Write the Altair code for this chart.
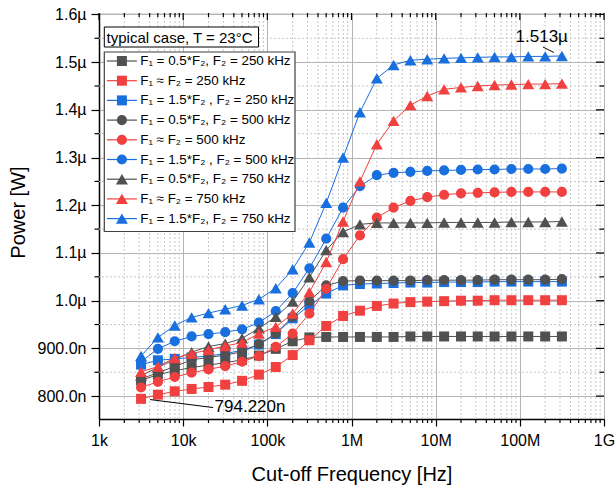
import altair as alt
import pandas as pd

# Cut-off frequency sweep [Hz]
freq_hz = [3.16e3, 5.01e3, 7.94e3, 1.26e4, 2.00e4, 3.16e4, 5.01e4, 7.94e4, 1.26e5,
           2.00e5, 3.16e5, 5.01e5, 7.94e5, 1.26e6, 2.00e6, 3.16e6, 5.01e6, 7.94e6,
           1.26e7, 2.00e7, 3.16e7, 5.01e7, 7.94e7, 1.26e8, 2.00e8, 3.16e8]

# Power in µW for each F1/F2 configuration
p_half_250 = [0.833, 0.845, 0.853, 0.860, 0.865, 0.870, 0.876, 0.885, 0.899, 0.915, 0.923, 0.924, 0.924,
              0.924, 0.924, 0.924, 0.925, 0.925, 0.925, 0.925, 0.925, 0.925, 0.925, 0.925, 0.925, 0.925]
p_eq_250 = [0.79422, 0.803, 0.810, 0.815, 0.819, 0.824, 0.832, 0.845, 0.861, 0.886, 0.917, 0.947, 0.968,
            0.979, 0.989, 0.994, 0.997, 0.998, 0.999, 1.000, 1.000, 1.001, 1.001, 1.001, 1.001, 1.001]
p_15_250 = [0.866, 0.875, 0.878, 0.881, 0.884, 0.889, 0.896, 0.908, 0.930, 0.963, 0.990, 1.015, 1.032,
            1.035, 1.036, 1.037, 1.038, 1.038, 1.039, 1.039, 1.039, 1.040, 1.040, 1.040, 1.040, 1.040]
p_half_500 = [0.836, 0.849, 0.862, 0.876, 0.881, 0.886, 0.893, 0.909, 0.931, 0.966, 0.999, 1.032, 1.041,
              1.042, 1.042, 1.042, 1.042, 1.043, 1.043, 1.043, 1.043, 1.044, 1.044, 1.044, 1.044, 1.045]
p_eq_500 = [0.818, 0.830, 0.840, 0.849, 0.856, 0.863, 0.872, 0.884, 0.903, 0.931, 0.973, 1.025, 1.087,
            1.137, 1.174, 1.195, 1.209, 1.217, 1.222, 1.225, 1.226, 1.227, 1.228, 1.228, 1.228, 1.228]
p_15_500 = [0.872, 0.899, 0.915, 0.925, 0.930, 0.934, 0.940, 0.954, 0.978, 1.016, 1.068, 1.130, 1.195,
            1.240, 1.263, 1.268, 1.270, 1.272, 1.273, 1.274, 1.275, 1.275, 1.276, 1.276, 1.276, 1.277]
p_half_750 = [0.843, 0.860, 0.877, 0.892, 0.904, 0.910, 0.921, 0.942, 0.966, 0.998, 1.049, 1.106, 1.144,
              1.160, 1.163, 1.163, 1.163, 1.163, 1.164, 1.164, 1.164, 1.164, 1.165, 1.165, 1.165, 1.166]
p_eq_750 = [0.851, 0.862, 0.880, 0.889, 0.897, 0.905, 0.912, 0.931, 0.945, 0.973, 1.018, 1.081, 1.166,
            1.250, 1.328, 1.377, 1.410, 1.429, 1.443, 1.447, 1.450, 1.452, 1.453, 1.454, 1.454, 1.455]
p_15_750 = [0.884, 0.923, 0.948, 0.965, 0.974, 0.982, 0.990, 1.003, 1.026, 1.066, 1.122, 1.205, 1.300,
            1.395, 1.466, 1.494, 1.504, 1.506, 1.508, 1.509, 1.510, 1.511, 1.511, 1.512, 1.512, 1.513]

series_values = [p_half_250, p_eq_250, p_15_250, p_half_500, p_eq_500, p_15_500,
                 p_half_750, p_eq_750, p_15_750]
series_labels = [
    "F\u2081 = 0.5*F\u2082, F\u2082 = 250 kHz",
    "F\u2081 \u2248 F\u2082 = 250 kHz",
    "F\u2081 = 1.5*F\u2082 , F\u2082 = 250 kHz",
    "F\u2081 = 0.5*F\u2082, F\u2082 = 500 kHz",
    "F\u2081 \u2248 F\u2082 = 500 kHz",
    "F\u2081 = 1.5*F\u2082 , F\u2082 = 500 kHz",
    "F\u2081 = 0.5*F\u2082, F\u2082 = 750 kHz",
    "F\u2081 \u2248 F\u2082 = 750 kHz",
    "F\u2081 = 1.5*F\u2082, F\u2082 = 750 kHz",
]
GREY, RED, BLUE = "#515151", "#F14040", "#1A6FDF"
series_colors = [GREY, RED, BLUE] * 3
series_shapes = ["square"] * 3 + ["circle"] * 3 + ["triangle-up"] * 3
shape_sizes = {"square": 100, "circle": 104, "triangle-up": 144}

x_major = [1e3, 1e4, 1e5, 1e6, 1e7, 1e8, 1e9]
x_minor = [d * m for d in x_major[:-1] for m in range(2, 10)]
y_major = [0.8, 0.9, 1.0, 1.1, 1.2, 1.3, 1.4, 1.5, 1.6]
y_minor = [0.85, 0.95, 1.05, 1.15, 1.25, 1.35, 1.45, 1.55]

W, H = 505, 406
FONT = "Liberation Sans"

xscale = alt.Scale(type="log", domain=[1e3, 1e9], nice=False)
yscale = alt.Scale(domain=[0.752, 1.603], nice=False, zero=False)

xaxis = alt.Axis(
    title="Cut-off Frequency [Hz]", values=x_major, format="~s",
    grid=True, gridColor="#b4b4b4", gridWidth=1,
    tickSize=7, tickColor="black", tickWidth=1.2,
    domain=True, domainColor="black", domainWidth=1.5,
    labelFont=FONT, labelFontSize=16, labelColor="black", labelPadding=6,
    labelFlush=False, labelOverlap=False,
    titleFont=FONT, titleFontSize=20, titleFontWeight="normal", titleColor="black",
    titleY=61, titleBaseline="alphabetic",
)
yaxis = alt.Axis(
    title="Power [W]", values=y_major,
    labelExpr="datum.value >= 0.999 ? format(datum.value, '.1f') + 'µ' : format(datum.value * 1000, '.1f') + 'n'",
    grid=True, gridColor="#b4b4b4", gridWidth=1,
    tickSize=8, tickColor="black", tickWidth=1.2,
    domain=True, domainColor="black", domainWidth=1.5,
    labelFont=FONT, labelFontSize=16, labelColor="black", labelPadding=5,
    labelFlush=False, labelOverlap=False,
    titleFont=FONT, titleFontSize=20, titleFontWeight="normal", titleColor="black",
    titleX=-81, titleY=199, titleAngle=270, titleBaseline="middle",
)

layers = []

# dotted minor grid
layers.append(
    alt.Chart(pd.DataFrame({"v": x_minor})).mark_rule(color="#c8c8c8", strokeDash=[2, 2], strokeWidth=1)
    .encode(x=alt.X("v:Q", scale=xscale, axis=xaxis))
)
layers.append(
    alt.Chart(pd.DataFrame({"v": y_minor})).mark_rule(color="#c8c8c8", strokeDash=[2, 2], strokeWidth=1)
    .encode(y=alt.Y("v:Q", scale=yscale, axis=yaxis))
)

# one line + symbol layer per configuration, later series on top
for vals, color, shape in zip(series_values, series_colors, series_shapes):
    df = pd.DataFrame({"freq": freq_hz, "p": vals})
    base = alt.Chart(df).encode(
        x=alt.X("freq:Q", scale=xscale, axis=xaxis),
        y=alt.Y("p:Q", scale=yscale, axis=yaxis),
    )
    layers.append(base.mark_line(color=color, strokeWidth=1))
    layers.append(base.mark_point(shape=shape, filled=True, color=color, opacity=1,
                                  size=shape_sizes[shape]))

# minor ticks (bottom outward, left outward) and inner ticks on top and right
def xticks(values, y0, y1):
    return (alt.Chart(pd.DataFrame({"v": values})).mark_rule(color="black", strokeWidth=1.2)
            .encode(x=alt.X("v:Q", scale=xscale, axis=xaxis), y=alt.value(y0), y2=alt.value(y1)))

def yticks(values, x0, x1):
    return (alt.Chart(pd.DataFrame({"v": values})).mark_rule(color="black", strokeWidth=1.2)
            .encode(y=alt.Y("v:Q", scale=yscale, axis=yaxis), x=alt.value(x0), x2=alt.value(x1)))

layers += [
    xticks(x_minor, H, H + 4),
    xticks(x_minor, 0, 4),
    xticks(x_major, 0, 7),
    yticks(y_minor, 0, -4.5),
    yticks(y_minor, W, W - 4.5),
    yticks(y_major, W, W - 8),
]

# value annotations with leader lines
last = pd.DataFrame({"freq": [freq_hz[-1]], "p": [p_15_750[-1]],
                     "txt": [f"{p_15_750[-1]:.3f}µ"]})
first = pd.DataFrame({"freq": [freq_hz[0]], "p": [p_eq_250[0]],
                      "txt": [f"{p_eq_250[0] * 1000:.3f}n"]})
for df, (ox1, oy1, ox2, oy2), (align, dx, dy) in [
    (last, (-19, -9, -8, -3.5), ("right", 6, -14)),
    (first, (9, 0.7, 72, 8.7), ("left", 73.5, 13.4)),
]:
    enc = dict(x=alt.X("freq:Q", scale=xscale, axis=xaxis), y=alt.Y("p:Q", scale=yscale, axis=yaxis))
    layers.append(
        alt.Chart(df).mark_rule(color="black", strokeWidth=1, xOffset=ox1, yOffset=oy1,
                                x2Offset=ox2, y2Offset=oy2)
        .encode(x2=alt.X2("freq"), y2=alt.Y2("p"), **enc)
    )
    layers.append(
        alt.Chart(df).mark_text(font=FONT, fontSize=17, color="black", align=align,
                                baseline="alphabetic", dx=dx, dy=dy)
        .encode(text="txt:N", **enc)
    )

# legend: title box and entry box
one = pd.DataFrame({"k": [0]})
layers.append(
    alt.Chart(one).mark_rect(fill="white", stroke="black", strokeWidth=1)
    .encode(x=alt.value(5.3), x2=alt.value(159.5), y=alt.value(14), y2=alt.value(34))
)
layers.append(
    alt.Chart(pd.DataFrame({"t": ["typical case, T = 23°C"]}))
    .mark_text(font=FONT, fontSize=15, color="black", align="left", baseline="middle")
    .encode(x=alt.value(7.6), y=alt.value(24.5), text="t:N")
)
layers.append(
    alt.Chart(one).mark_rect(fill="white", stroke="#404040", strokeWidth=1.2)
    .encode(x=alt.value(5.3), x2=alt.value(196), y=alt.value(39), y2=alt.value(218.5))
)
for i, (label, color, shape) in enumerate(zip(series_labels, series_colors, series_shapes)):
    yy = 48 + 19.7 * i
    layers.append(
        alt.Chart(one).mark_rule(color=color, strokeWidth=1.2)
        .encode(x=alt.value(7.9), x2=alt.value(37.9), y=alt.value(yy))
    )
    layers.append(
        alt.Chart(one).mark_point(shape=shape, filled=True, color=color, opacity=1,
                                  size=shape_sizes[shape])
        .encode(x=alt.value(22.9), y=alt.value(yy))
    )
    layers.append(
        alt.Chart(pd.DataFrame({"t": [label]}))
        .mark_text(font=FONT, fontSize=13.4, color="black", align="left", baseline="middle")
        .encode(x=alt.value(41.2), y=alt.value(yy), text="t:N")
    )

chart = (
    alt.layer(*layers)
    .properties(width=W, height=H,
                padding={"left": 99, "top": 13, "right": 11, "bottom": 69},
                autosize=alt.AutoSizeParams(type="none"))
    .configure_view(stroke="black", strokeWidth=1.5)
    .configure(background="white")
)

chart.save("out.html", embed_options={"renderer": "svg", "actions": False})
